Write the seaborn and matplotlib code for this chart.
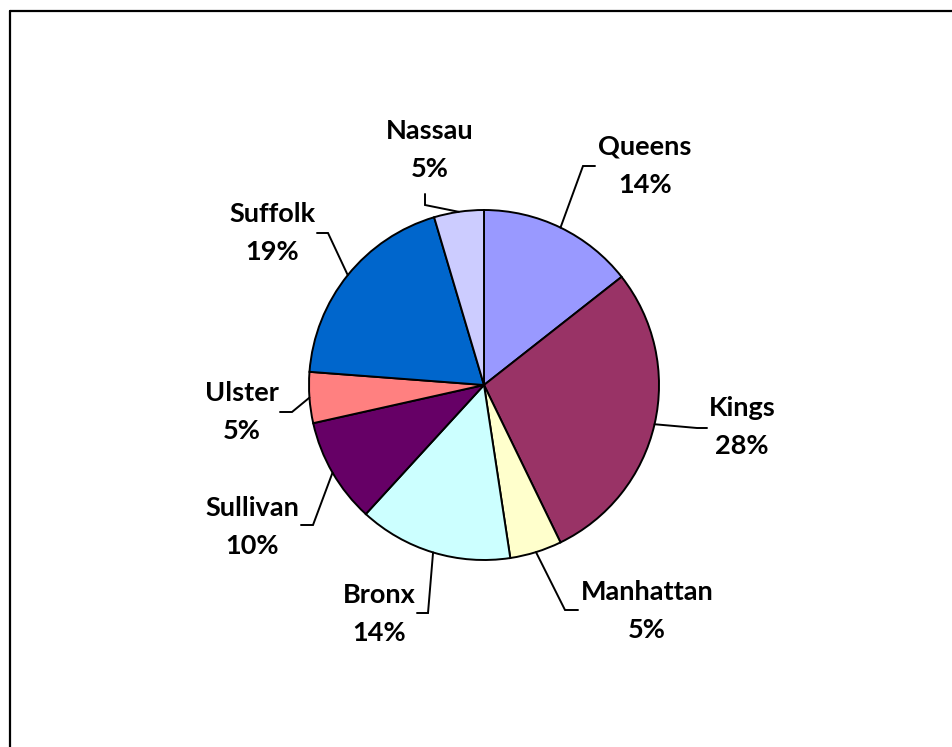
import numpy as np
import matplotlib
matplotlib.use("Agg")
import matplotlib.pyplot as plt
from matplotlib.lines import Line2D
import seaborn as sns

# County share of cases (clockwise from 12 o'clock)
counties = ['Queens', 'Kings', 'Manhattan', 'Bronx', 'Sullivan', 'Ulster', 'Suffolk', 'Nassau']
shares = [14.4, 28.4, 4.8, 14.2, 9.7, 4.7, 19.2, 4.6]
colors = ['#9999FF', '#993366', '#FFFFCC', '#CCFFFF', '#660066', '#FF8080', '#0066CC', '#CCCCFF']

W, H = 952, 747


def create_chart():
    sns.set_theme(style="white")
    plt.rcParams['font.family'] = ['Lato', 'DejaVu Sans']

    fig = plt.figure(figsize=(W / 100, H / 100), dpi=100)
    ax = fig.add_axes([0, 0, 1, 1])
    ax.set_axis_off()

    cx, cy, r = 484, H - 385, 175
    wedges, _ = ax.pie(shares, colors=sns.color_palette(colors), startangle=90,
                       counterclock=False, center=(cx, cy), radius=r,
                       wedgeprops=dict(edgecolor='black', linewidth=1.4))
    ax.set_xlim(0, W)
    ax.set_ylim(0, H)
    ax.set_aspect('equal')

    # label layout (pixel coords from top): text centre, elbow, end of leader
    layout = {
        'Queens':    ((645, 147), (583, 166), (595, 166)),
        'Kings':     ((742, 408), (697, 428), (707, 428)),
        'Manhattan': ((647, 592), (565, 610), (578, 610)),
        'Bronx':     ((379, 595), (428, 613), (417, 613)),
        'Sullivan':  ((252, 508), (313, 525), (301, 525)),
        'Ulster':    ((242, 393), (292, 412), (280, 412)),
        'Suffolk':   ((272, 214), (328, 233), (317, 233)),
        'Nassau':    ((430, 131), (425, 205), (425, 194)),
    }

    total = sum(shares)
    for w, name, val in zip(wedges, counties, shares):
        mid = np.deg2rad((w.theta1 + w.theta2) / 2)
        sx, sy = cx + r * np.cos(mid), cy + r * np.sin(mid)
        (tx, ty), (ex, ey), (fx, fy) = layout[name]
        ax.plot([sx, ex, fx], [sy, H - ey, H - fy], color='black', lw=1.4,
                solid_joinstyle='miter')
        ax.text(tx, H - ty, name, ha='center', va='center', fontsize=19.5,
                fontweight='bold', color='black')
        ax.text(tx, H - ty - 38, f"{round(val / total * 100)}%", ha='center',
                va='center', fontsize=19.5, fontweight='bold', color='black')

    # outer frame (only top and left edges visible)
    fig.add_artist(Line2D([9.5 / W, 1], [1 - 10.5 / H, 1 - 10.5 / H],
                          transform=fig.transFigure, color='black', lw=1.6))
    fig.add_artist(Line2D([9.5 / W, 9.5 / W], [0, 1 - 10.5 / H],
                          transform=fig.transFigure, color='black', lw=1.6))

    fig.savefig('out.png', dpi=100, facecolor='white')


if __name__ == "__main__":
    create_chart()
